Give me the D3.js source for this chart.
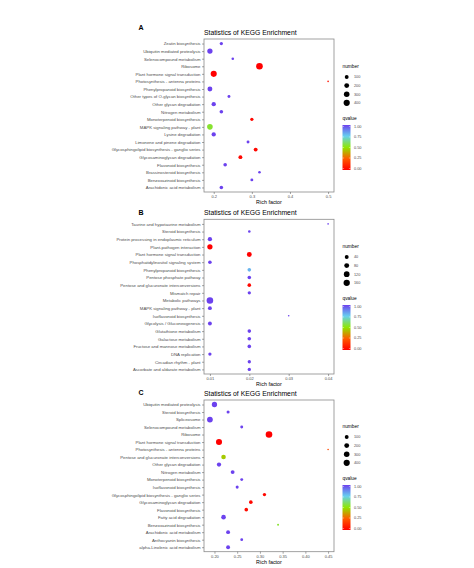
<!DOCTYPE html>
<html><head><meta charset="utf-8">
<script src="https://cdn.jsdelivr.net/npm/d3@7"></script>
<style>body{margin:0;background:#fff}svg{display:block}text{font-family:"Liberation Sans",Arial,sans-serif}</style>
</head><body><div id="chart"></div>
<script>
// ---------- DATA ----------
const catsA = ["Zeatin biosynthesis","Ubiquitin mediated proteolysis","Selenocompound metabolism","Ribosome","Plant hormone signal transduction","Photosynthesis - antenna proteins","Phenylpropanoid biosynthesis","Other types of O-glycan biosynthesis","Other glycan degradation","Nitrogen metabolism","Monoterpenoid biosynthesis","MAPK signaling pathway - plant","Lysine degradation","Limonene and pinene degradation","Glycosphingolipid biosynthesis - ganglio series","Glycosaminoglycan degradation","Flavonoid biosynthesis","Brassinosteroid biosynthesis","Benzoxazinoid biosynthesis","Arachidonic acid metabolism"];
const richA = [0.22,0.19,0.25,0.32,0.20,0.50,0.19,0.24,0.20,0.22,0.30,0.19,0.20,0.29,0.31,0.27,0.23,0.32,0.30,0.22];
const numA  = [56,258,21,470,381,2,206,34,138,77,56,302,138,34,101,101,77,21,34,77];
const qA    = [1.0,1.0,1.0,0.0,0.0,0.05,1.0,1.0,1.0,1.0,0.02,0.55,1.0,1.0,0.02,0.02,1.0,1.0,1.0,1.0];
const xTicksA = [0.2,0.3,0.4,0.5];
const sizeBreaksA = [100,200,300,400];

const catsB = ["Taurine and hypotaurine metabolism","Steroid biosynthesis","Protein processing in endoplasmic reticulum","Plant-pathogen interaction","Plant hormone signal transduction","Phosphatidylinositol signaling system","Phenylpropanoid biosynthesis","Pentose phosphate pathway","Pentose and glucuronate interconversions","Mismatch repair","Metabolic pathways","MAPK signaling pathway - plant","Isoflavonoid biosynthesis","Glycolysis / Gluconeogenesis","Glutathione metabolism","Galactose metabolism","Fructose and mannose metabolism","DNA replication","Circadian rhythm - plant","Ascorbate and aldarate metabolism"];
const richB = [0.04,0.02,0.01,0.01,0.02,0.01,0.02,0.02,0.02,0.02,0.01,0.01,0.03,0.01,0.02,0.02,0.02,0.01,0.02,0.02];
const numB  = [1,8,53,99,79,30,30,30,30,22,180,39,1,39,30,30,30,22,22,22];
const qB    = [1.0,1.0,1.0,0.0,0.0,1.0,0.8,1.0,0.02,1.0,1.0,1.0,1.0,1.0,1.0,1.0,1.0,1.0,1.0,1.0];
const xTicksB = [0.01,0.02,0.03,0.04];
const sizeBreaksB = [40,80,120,160];

const catsC = ["Ubiquitin mediated proteolysis","Steroid biosynthesis","Spliceosome","Selenocompound metabolism","Ribosome","Plant hormone signal transduction","Photosynthesis - antenna proteins","Pentose and glucuronate interconversions","Other glycan degradation","Nitrogen metabolism","Monoterpenoid biosynthesis","Isoflavonoid biosynthesis","Glycosphingolipid biosynthesis - ganglio series","Glycosaminoglycan degradation","Flavonoid biosynthesis","Fatty acid degradation","Benzoxazinoid biosynthesis","Arachidonic acid metabolism","Anthocyanin biosynthesis","alpha-Linolenic acid metabolism"];
const richC = [0.20,0.23,0.19,0.26,0.32,0.21,0.45,0.22,0.21,0.24,0.26,0.25,0.31,0.28,0.27,0.22,0.34,0.23,0.26,0.23];
const numC  = [258,40,330,34,470,381,2,170,138,101,34,40,60,77,77,170,5,101,30,101];
const qC    = [1.0,1.0,1.0,1.0,0.0,0.0,0.2,0.45,1.0,1.0,1.0,1.0,0.02,0.02,0.03,1.0,0.55,1.0,1.0,1.0];
const xTicksC = [0.20,0.25,0.30,0.35,0.40,0.45];
const sizeBreaksC = [100,200,300,400];

const qTicks = [0,0.25,0.5,0.75,1];
const qStops = [0,0.25,0.5,0.75,1];
const qColors = ["#ff0000","#ff5a00","#8fe600","#66d0ee","#6c42ee"];

// ---------- DRAW ----------
const W = 474, H = 568;
const svg = d3.select("#chart").append("svg").attr("width", W).attr("height", H);
const color = d3.scaleLinear().domain(qStops).range(qColors).clamp(true);
const defs = svg.append("defs");
const grad = defs.append("linearGradient").attr("id","qgrad").attr("x1",0).attr("x2",0).attr("y1",1).attr("y2",0);
d3.range(0, 1.0001, 0.05).forEach(t => grad.append("stop").attr("offset", t).attr("stop-color", color(t)));

const axisCol = "#4d4d4d";
const left = 204, right = 334;

function panel(p) {
  const g = svg.append("g");
  const rows = p.cats.map((c, i) => ({cat: c, x: p.rich[i], n: p.num[i], q: p.q[i]}));
  const [xmin, xmax] = d3.extent(p.rich);
  const pad = (xmax - xmin) * 0.05;
  const x = d3.scaleLinear().domain([xmin - pad, xmax + pad]).range([left, right]);
  const y = d3.scalePoint().domain(p.cats).range([p.top, p.bottom]).padding(0.6);
  const [nmin, nmax] = d3.extent(p.num);
  const size = d3.scaleSqrt().domain([0, nmax - nmin]).range([0.8, 3.3]).clamp(true);
  const r = v => size(Math.max(0, v - nmin));

  g.append("text").attr("x", 141).attr("y", p.labelY).attr("font-size", 7).attr("font-weight", "bold").attr("text-anchor","middle").text(p.label);
  g.append("text").attr("x", left).attr("y", p.top - 4).attr("font-size", 6.8).attr("fill", "#000").text("Statistics of KEGG Enrichment");

  g.append("rect").attr("x", left).attr("y", p.top).attr("width", right - left).attr("height", p.bottom - p.top)
    .attr("fill", "#fff").attr("stroke", "#8a8a8a").attr("stroke-width", 0.8);

  const xa = d3.axisBottom(x).tickValues(p.xTicks).tickFormat(d3.format(p.fmt)).tickSize(2).tickPadding(1.5);
  const gx = g.append("g").attr("transform", `translate(0,${p.bottom})`).call(xa);
  const ya = d3.axisLeft(y).tickSize(2).tickPadding(1.5);
  const gy = g.append("g").attr("transform", `translate(${left},0)`).call(ya);
  [gx, gy].forEach(a => {
    a.select(".domain").remove();
    a.selectAll("line").attr("stroke", "#4d4d4d").attr("stroke-width", 0.5);
    a.selectAll("text").attr("fill", axisCol).attr("font-size", 4.3).attr("font-family", "Liberation Sans, Arial, sans-serif");
  });
  gx.selectAll("text").attr("font-size", 4);
  g.append("text").attr("x", (left + right) / 2).attr("y", p.bottom + 12).attr("text-anchor","middle").attr("font-size", 5.4).attr("fill","#000").text("Rich factor");

  g.append("g").selectAll("circle").data(rows).join("circle")
    .attr("cx", d => x(d.x)).attr("cy", d => y(d.cat)).attr("r", d => r(d.n))
    .attr("fill", d => color(d.q));

  const lx = 342.5, ly = p.legTop;
  g.append("text").attr("x", lx).attr("y", ly).attr("font-size", 4.8).attr("fill","#000").text("number");
  p.sizeBreaks.forEach((b, i) => {
    const cy = ly + 9 + i * 8.6;
    g.append("circle").attr("cx", lx + 4.2).attr("cy", cy).attr("r", r(b)).attr("fill", "#000");
    g.append("text").attr("x", lx + 11.5).attr("y", cy + 1.3).attr("font-size", 3.8).attr("fill", axisCol).text(b);
  });
  const cTitleY = ly + 51.5, barTop = cTitleY + 5.5, barH = 45;
  g.append("text").attr("x", lx).attr("y", cTitleY).attr("font-size", 4.8).attr("fill","#000").text("qvalue");
  g.append("rect").attr("x", lx).attr("y", barTop).attr("width", 8).attr("height", barH).attr("fill", "url(#qgrad)");
  const qs = d3.scaleLinear().domain([0, 1]).range([barTop + barH - 1.5, barTop + 1.5]);
  qTicks.forEach(t => {
    g.append("line").attr("x1", lx).attr("x2", lx + 1.6).attr("y1", qs(t)).attr("y2", qs(t)).attr("stroke","#fff").attr("stroke-width",0.4);
    g.append("line").attr("x1", lx + 6.4).attr("x2", lx + 8).attr("y1", qs(t)).attr("y2", qs(t)).attr("stroke","#fff").attr("stroke-width",0.4);
    g.append("text").attr("x", lx + 11.5).attr("y", qs(t) + 1.3).attr("font-size", 3.8).attr("fill", axisCol).text(d3.format(".2f")(t));
  });
}

panel({label:"A", cats:catsA, rich:richA, num:numA, q:qA, xTicks:xTicksA, fmt:".1f", sizeBreaks:sizeBreaksA, top:39, bottom:192, labelY:30, legTop:68});
panel({label:"B", cats:catsB, rich:richB, num:numB, q:qB, xTicks:xTicksB, fmt:".2f", sizeBreaks:sizeBreaksB, top:219.3, bottom:374, labelY:215, legTop:248});
panel({label:"C", cats:catsC, rich:richC, num:numC, q:qC, xTicks:xTicksC, fmt:".2f", sizeBreaks:sizeBreaksC, top:400, bottom:551.7, labelY:395, legTop:428});
</script></body></html>
